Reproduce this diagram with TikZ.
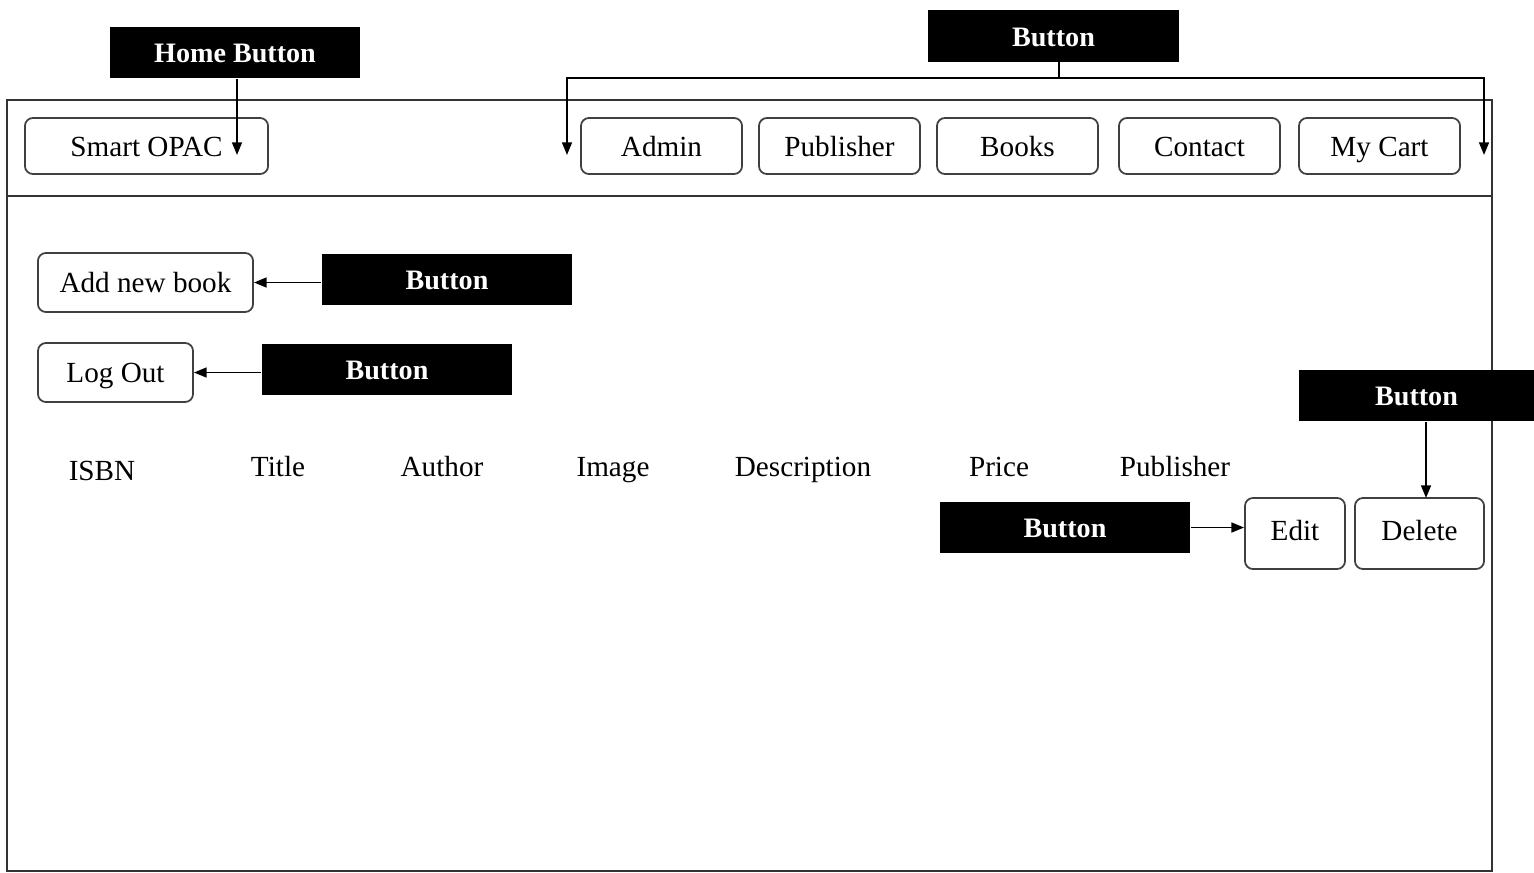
\documentclass[tikz,border=0pt]{standalone}
\usepackage{fontspec}
\setmainfont{Liberation Serif}
\usetikzlibrary{arrows.meta, positioning, calc}
\newcommand{\callout}[3]
{
	\draw[tip] (#2) -- +(0,#1) -| (#3)
}

\begin{document}
\begin{tikzpicture}[x=0.01cm, y=-0.01cm,
	every node/.append style={font=\fontsize{8.3}{10}\selectfont, inner sep=0pt, text height=1.55ex, text depth=0.3ex},
	btn/.style={draw=black!75, line width=0.5pt, rounded corners=0.08cm, minimum height=0.56cm},
	tag/.style={fill=black, text=white, font=\fontsize{8}{10}\selectfont\bfseries, minimum width=2.5cm, minimum height=0.51cm},
	tip/.style={-{Triangle[length=3.6pt, width=2.8pt]}, line width=0.55pt}]
	\useasboundingbox (0,0) rectangle (1534,872);
	% page frame and header bar
	\draw[line width=0.55pt, black!80] (7,100) rectangle (1492,871);
	\draw[line width=0.55pt, black!80] (7,196) -- (1492,196);
	% header
	\node[btn, minimum width=2.43cm] at (146.5,146) (smart){Smart OPAC};
	\foreach \x/\t/\n in {661.5/Admin/admin, 839.5/Publisher/pub, 1017.5/Books/books, 1199.5/Contact/contact, 1379.5/My Cart/cart}
		\node[btn, minimum width=1.61cm] at (\x,146) (\n){\t};
	\node[tag] at (235,52.5) (home){Home Button};
	\node[tag, minimum height=0.52cm] at (1053.5,36) (btop){Button};
	\coordinate (homeend) at (237,155);
	\coordinate (navL) at (567,155);
	\coordinate (navR) at (1484,155);
	\coordinate (navmid) at (1059,62);
	\draw[tip] (homeend |- home.south) -- (homeend);
	\callout{16}{navmid}{navL};
	\callout{16}{navmid}{navR};
	% side buttons
	\node[btn, minimum width=2.15cm, minimum height=0.59cm] at (145.5,282.5) (addbook){Add new book};
	\node[btn, minimum width=1.55cm, minimum height=0.59cm] at (115.5,372.5) (logout){Log Out};
	\node[tag] at (447,279.5) (badd){Button};
	\node[tag] at (387,369.5) (blog){Button};
	\draw[tip] (badd.west |- addbook.east) -- (addbook.east);
	\draw[tip] (blog.west |- logout.east) -- (logout.east);
	% table columns
	\node at (102,470) (isbn){ISBN};
	\foreach \x/\t/\n in {278/Title/title, 442/Author/author, 613/Image/image, 803/Description/desc, 999/Price/price, 1175/Publisher/colpub}
		\node at (\x,466) (\n){\t};
	% row buttons
	\node[btn, minimum width=1.0cm, text height=0.42cm, text depth=0.29cm] at (1295,533.5) (edit){Edit};
	\node[btn, minimum width=1.29cm, text height=0.42cm, text depth=0.29cm] at (1419.5,533.5) (delete){Delete};
	\node[tag] at (1065,527.5) (bedit){Button};
	\node[tag, minimum width=2.35cm] at (1416.5,395.5) (bdel){Button};
	\coordinate (delend) at (1426,498);
	\draw[tip] (bedit.east) -- (edit.west |- bedit.east);
	\draw[tip] (delend |- bdel.south) -- (delend);
\end{tikzpicture}
\end{document}
